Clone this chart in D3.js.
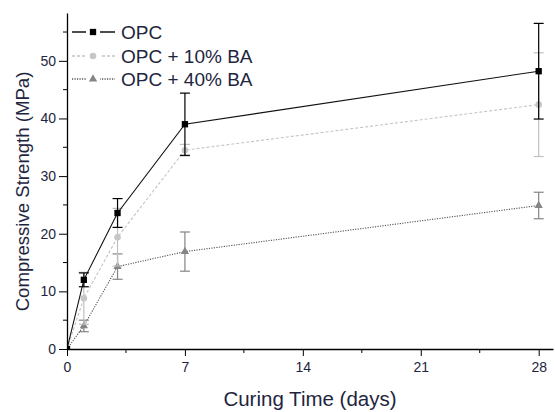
<!DOCTYPE html>
<html>
<head>
  <meta charset="UTF-8">
  <title>Compressive Strength vs Curing Time</title>
  <style>
    body { margin: 0; padding: 0; background: #fff; }
    text { font-family: "Liberation Sans", Arial, sans-serif; fill: #1e2540; }
  </style>
</head>
<body>
<svg width="555" height="412"></svg>
<script src="https://d3js.org/d3.v7.min.js"></script>
<script>

var days = [0, 1, 3, 7, 28]
var seriesNames = ["OPC", "OPC + 10% BA", "OPC + 40% BA"]

var opc = [0, 12.0, 23.6, 39.0, 48.2]
var opcErr = [0, 1.2, 2.5, 5.4, 8.3]

var ba10 = [0, 8.8, 19.4, 34.5, 42.4]
var ba10Err = [0, 4.5, 5.0, 1.0, 9.0]

var ba40 = [0, 4.0, 14.3, 16.9, 24.9]
var ba40Err = [0, 1.0, 2.2, 3.4, 2.3]

var xTicks = [0, 7, 14, 21, 28]
var yTicks = [0, 10, 20, 30, 40, 50]

var styles = [
  { line: "#111", dash: null, marker: "square", fill: "#000", err: "#000" },
  { line: "#c4c4c4", dash: "3,2", marker: "circle", fill: "#c6c6c6", err: "#c0c0c0" },
  { line: "#555", dash: "1.2,1.3", marker: "triangle", fill: "#858585", err: "#858585" }
]

var series = [opc, ba10, ba40].map((vals, i) => ({
  name: seriesNames[i],
  style: styles[i],
  points: days.map((d, j) => ({ day: d, v: vals[j], e: [opcErr, ba10Err, ba40Err][i][j] }))
}))

var svg = d3.select("svg")

var x = d3.scaleLinear().domain([0, 28.85]).range([67, 553])
var y = d3.scaleLinear().domain([0, 58.3]).range([349, 13])

svg.append("clipPath").attr("id", "plot")
  .append("rect").attr("x", 67).attr("y", 0).attr("width", 490).attr("height", 349)

var plot = svg.append("g").attr("clip-path", "url(#plot)")

var symbolTypes = { square: d3.symbolSquare, circle: d3.symbolCircle, triangle: d3.symbolTriangle }
var symbolSizes = { square: 40, circle: 34, triangle: 30 }

function marker(sel, kind, color) {
  sel.append("path")
    .attr("d", d3.symbol().type(symbolTypes[kind]).size(symbolSizes[kind])())
    .attr("fill", color)
}

var line = d3.line().x(d => x(d.day)).y(d => y(d.v))

// draw back to front so OPC sits on top
series.slice().reverse().forEach(s => {
  var g = plot.append("g")

  g.append("path")
    .datum(s.points)
    .attr("d", line)
    .attr("fill", "none")
    .attr("stroke", s.style.line)
    .attr("stroke-width", 1.1)
    .attr("stroke-dasharray", s.style.dash)

  var eb = g.selectAll("g.err")
    .data(s.points.filter(p => p.e > 0))
    .enter().append("g")
    .attr("class", "err")
    .attr("stroke", s.style.err)
    .attr("stroke-width", 1.2)

  eb.append("line")
    .attr("x1", d => x(d.day)).attr("x2", d => x(d.day))
    .attr("y1", d => y(d.v - d.e)).attr("y2", d => y(d.v + d.e))
  eb.append("line")
    .attr("x1", d => x(d.day) - 5).attr("x2", d => x(d.day) + 5)
    .attr("y1", d => y(d.v + d.e)).attr("y2", d => y(d.v + d.e))
  eb.append("line")
    .attr("x1", d => x(d.day) - 5).attr("x2", d => x(d.day) + 5)
    .attr("y1", d => y(d.v - d.e)).attr("y2", d => y(d.v - d.e))

  g.selectAll("g.mk")
    .data(s.points)
    .enter().append("g")
    .attr("class", "mk")
    .attr("transform", d => "translate(" + x(d.day) + "," + y(d.v) + ")")
    .each(function() { marker(d3.select(this), s.style.marker, s.style.fill) })
})

// axes
var xAxis = svg.append("g").attr("transform", "translate(0,349)")
xAxis.call(d3.axisBottom(x).tickValues(xTicks).tickSize(7).tickSizeOuter(0))
xAxis.append("g").selectAll("line")
  .data([3.5, 10.5, 17.5, 24.5])
  .enter().append("line")
  .attr("x1", d => x(d)).attr("x2", d => x(d))
  .attr("y1", 0).attr("y2", 4)
  .attr("stroke", "#000")

var yAxis = svg.append("g").attr("transform", "translate(67,0)")
yAxis.call(d3.axisLeft(y).tickValues(yTicks).tickSize(8).tickSizeOuter(0))
yAxis.append("g").selectAll("line")
  .data([5, 15, 25, 35, 45, 55])
  .enter().append("line")
  .attr("x1", 0).attr("x2", -4)
  .attr("y1", d => y(d)).attr("y2", d => y(d))
  .attr("stroke", "#000")

svg.selectAll(".domain").attr("stroke", "#000").attr("stroke-width", 1.3)
svg.selectAll(".tick line").attr("stroke", "#000")
svg.selectAll(".tick text")
  .style("font-size", "14px")
  .style("font-family", "'Liberation Sans', Arial, sans-serif")
  .attr("fill", "#1e2540")
xAxis.selectAll(".tick text").attr("dy", "0.95em")
yAxis.selectAll(".tick text").attr("x", -11)

// axis titles
svg.append("text")
  .attr("x", 310).attr("y", 406)
  .attr("text-anchor", "middle")
  .style("font-size", "20.5px")
  .text("Curing Time (days)")

svg.append("text")
  .attr("transform", "translate(28.5,191.5) rotate(-90)")
  .attr("text-anchor", "middle")
  .style("font-size", "18.6px")
  .text("Compressive Strength (MPa)")

// legend
var legend = svg.append("g")
var rowY = [32, 56, 79]
series.forEach((s, i) => {
  var r = legend.append("g").attr("transform", "translate(0," + rowY[i] + ")")
  r.append("line")
    .attr("x1", 72).attr("x2", 115)
    .attr("stroke", s.style.line)
    .attr("stroke-width", 1.3)
    .attr("stroke-dasharray", s.style.dash)
  r.append("rect")
    .attr("x", 86).attr("y", -5).attr("width", 14).attr("height", 10)
    .attr("fill", "#fff")
  r.append("g").attr("transform", "translate(93,0)")
    .call(g => marker(g, s.style.marker, s.style.fill))
  r.append("text")
    .attr("x", 121).attr("y", 7)
    .style("font-size", "19px")
    .text(s.name)
})

</script>
</body>
</html>
